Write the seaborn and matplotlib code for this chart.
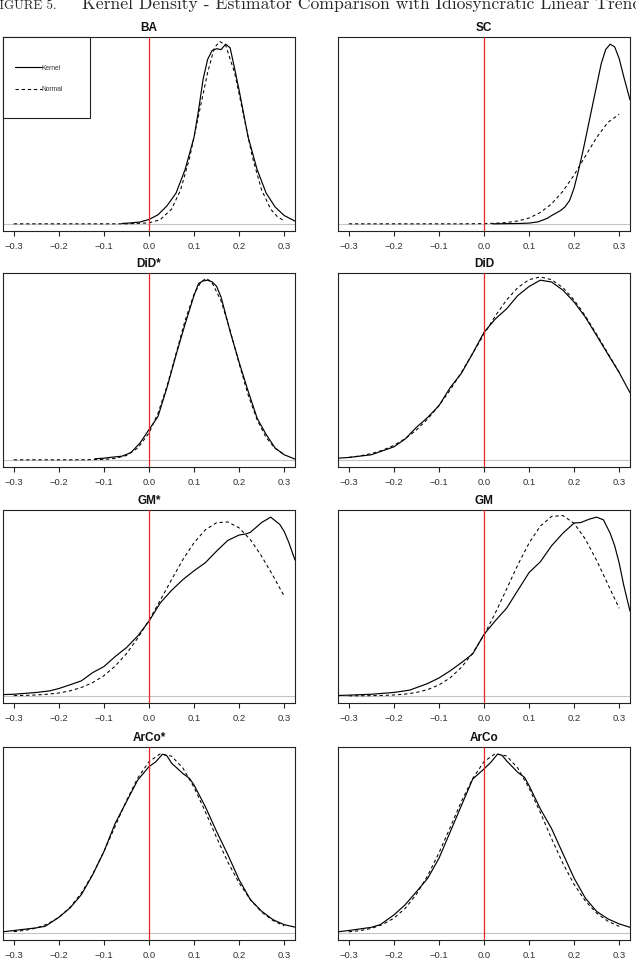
import matplotlib
matplotlib.use("Agg")
import matplotlib.pyplot as plt
import pandas as pd
import seaborn as sns
from matplotlib.patches import Rectangle
from matplotlib.lines import Line2D

# ---------------- data ----------------
PANELS = ["BA", "SC", "DiD*", "DiD", "GM*", "GM", "ArCo*", "ArCo"]
XTICKS = [-0.3, -0.2, -0.1, 0.0, 0.1, 0.2, 0.3]
XTICK_LABELS = ["\u22120.3", "\u22120.2", "\u22120.1", "0.0", "0.1", "0.2", "0.3"]
LEGEND_LABELS = ["Kernel", "Normal"]

GRID = [-0.3, -0.275, -0.25, -0.225, -0.2, -0.175, -0.15, -0.125, -0.1, -0.075,
        -0.05, -0.025, 0.0, 0.025, 0.05, 0.075, 0.1, 0.125, 0.15, 0.175,
        0.2, 0.225, 0.25, 0.275, 0.3]

# BA
BA_KX = [-0.06, -0.04, -0.02, 0.0, 0.02, 0.04, 0.06, 0.08, 0.1, 0.11, 0.12, 0.13, 0.14,
         0.15, 0.16, 0.17, 0.18, 0.19, 0.2, 0.21, 0.22, 0.24, 0.26, 0.28, 0.3, 0.324]
BA_KY = [0.002, 0.005, 0.01, 0.024, 0.05, 0.10, 0.17, 0.30, 0.48, 0.63, 0.80, 0.91, 0.96,
         0.97, 0.965, 0.995, 0.975, 0.86, 0.74, 0.61, 0.48, 0.30, 0.17, 0.093, 0.046, 0.015]
BA_NX = [-0.3, -0.2, -0.1, -0.05, 0.0, 0.025, 0.05, 0.07, 0.09, 0.11, 0.13, 0.145, 0.157,
         0.17, 0.19, 0.21, 0.23, 0.25, 0.27, 0.285, 0.3]
BA_NY = [0.0, 0.0, 0.0, 0.0001, 0.005, 0.023, 0.081, 0.187, 0.364, 0.600, 0.837, 0.975, 1.01,
         0.99, 0.837, 0.600, 0.364, 0.187, 0.081, 0.039, 0.017]

# SC
SC_KX = [0.02, 0.05, 0.08, 0.1, 0.12, 0.14, 0.15, 0.16, 0.17, 0.18, 0.19, 0.2, 0.21, 0.22,
         0.23, 0.24, 0.25, 0.26, 0.27, 0.28, 0.29, 0.3, 0.31, 0.324]
SC_KY = [0.0, 0.001, 0.002, 0.004, 0.011, 0.03, 0.046, 0.06, 0.074, 0.095, 0.13, 0.20, 0.30,
         0.41, 0.53, 0.65, 0.77, 0.89, 0.97, 1.0, 0.985, 0.92, 0.82, 0.69]
SC_NX = [-0.3, -0.2, -0.1, -0.05, 0.0, 0.025, 0.05, 0.075, 0.1, 0.125, 0.15, 0.175, 0.2,
         0.225, 0.25, 0.275, 0.3]
SC_NY = [0.0, 0.0, 0.0, 0.0, 0.001, 0.003, 0.007, 0.016, 0.032, 0.063, 0.111, 0.181, 0.272,
         0.377, 0.481, 0.565, 0.61]

# DiD*
DIDS_KX = [-0.12, -0.1, -0.08, -0.06, -0.04, -0.02, 0.0, 0.02, 0.04, 0.06, 0.08, 0.1, 0.11,
           0.12, 0.13, 0.14, 0.15, 0.16, 0.18, 0.2, 0.22, 0.24, 0.26, 0.28, 0.3, 0.324]
DIDS_KY = [0.006, 0.009, 0.015, 0.02, 0.04, 0.093, 0.167, 0.24, 0.40, 0.58, 0.75, 0.91, 0.976,
           0.99, 0.994, 0.985, 0.96, 0.90, 0.71, 0.54, 0.38, 0.23, 0.14, 0.065, 0.028, 0.004]
DIDS_NX = [-0.3, -0.2, -0.15, -0.1, -0.075, -0.05, -0.025, 0.0, 0.02, 0.04, 0.06, 0.08, 0.1,
           0.115, 0.127, 0.14, 0.16, 0.18, 0.2, 0.22, 0.24, 0.26, 0.28, 0.3]
DIDS_NY = [0.0, 0.0, 0.0001, 0.002, 0.008, 0.024, 0.065, 0.148, 0.258, 0.408, 0.588, 0.770,
           0.917, 0.983, 1.005, 0.98, 0.879, 0.717, 0.532, 0.359, 0.221, 0.123, 0.063, 0.029]

# DiD
DID_KX = [-0.324, -0.3, -0.25, -0.2, -0.175, -0.15, -0.125, -0.1, -0.075, -0.05, -0.025,
          0.0, 0.025, 0.05, 0.075, 0.1, 0.125, 0.15, 0.175, 0.2, 0.225, 0.25, 0.275, 0.3, 0.324]
DID_KY = [0.009, 0.013, 0.028, 0.072, 0.115, 0.18, 0.235, 0.30, 0.40, 0.48, 0.59, 0.706, 0.78,
          0.836, 0.91, 0.96, 0.995, 0.985, 0.94, 0.874, 0.79, 0.688, 0.585, 0.483, 0.372]
DID_NY = [0.0132, 0.0216, 0.0345, 0.053, 0.080, 0.117, 0.165, 0.226, 0.30, 0.387, 0.485, 0.590,
          0.695, 0.797, 0.885, 0.954, 0.998, 1.013, 0.998, 0.954, 0.885, 0.797, 0.695, 0.590,
          0.485]

# GM*
GMS_KX = [-0.324, -0.3, -0.25, -0.22, -0.2, -0.175, -0.15, -0.125, -0.1, -0.075, -0.05,
          -0.025, 0.0, 0.025, 0.05, 0.075, 0.1, 0.125, 0.15, 0.175, 0.2, 0.215, 0.225, 0.25,
          0.27, 0.29, 0.3, 0.31, 0.324]
GMS_KY = [0.007, 0.009, 0.019, 0.028, 0.041, 0.062, 0.084, 0.13, 0.164, 0.22, 0.27, 0.335,
          0.418, 0.52, 0.59, 0.65, 0.70, 0.745, 0.81, 0.87, 0.90, 0.906, 0.915, 0.97, 1.0, 0.96,
          0.92, 0.86, 0.76]
GMS_NY = [0.0013, 0.0026, 0.005, 0.0092, 0.016, 0.028, 0.047, 0.074, 0.113, 0.167, 0.236,
          0.323, 0.423, 0.535, 0.650, 0.762, 0.857, 0.929, 0.969, 0.973, 0.940, 0.874, 0.781,
          0.673, 0.558]

# GM
GM_KX = [-0.324, -0.3, -0.25, -0.2, -0.165, -0.15, -0.125, -0.1, -0.075, -0.05, -0.025, 0.0,
         0.025, 0.05, 0.075, 0.1, 0.125, 0.15, 0.175, 0.2, 0.215, 0.235, 0.25, 0.265, 0.28,
         0.29, 0.3, 0.31, 0.324]
GM_KY = [0.002, 0.004, 0.009, 0.019, 0.032, 0.046, 0.069, 0.10, 0.14, 0.186, 0.235, 0.344,
         0.42, 0.49, 0.59, 0.69, 0.75, 0.84, 0.91, 0.967, 0.97, 0.99, 1.0, 0.985, 0.91, 0.84,
         0.743, 0.62, 0.474]
GM_NY = [0.0002, 0.0004, 0.001, 0.0023, 0.0049, 0.0098, 0.019, 0.035, 0.061, 0.101, 0.160,
         0.240, 0.34, 0.463, 0.597, 0.733, 0.855, 0.95, 1.004, 1.009, 0.965, 0.877, 0.758,
         0.624, 0.49]

# ArCo*
ARCO_KX = [-0.324, -0.3, -0.25, -0.23, -0.2, -0.175, -0.15, -0.125, -0.1, -0.075, -0.05,
           -0.025, 0.0, 0.015, 0.03, 0.04, 0.05, 0.075, 0.09, 0.1, 0.125, 0.15, 0.175, 0.2,
           0.225, 0.25, 0.275, 0.3, 0.324]
ARCOS_KY = [0.006, 0.013, 0.028, 0.037, 0.087, 0.14, 0.214, 0.325, 0.455, 0.613, 0.734,
            0.855, 0.93, 0.957, 1.0, 0.99, 0.95, 0.892, 0.864, 0.827, 0.706, 0.567, 0.437,
            0.297, 0.186, 0.121, 0.074, 0.046, 0.032]
ARCOS_NY = [0.0067, 0.0139, 0.027, 0.050, 0.087, 0.143, 0.223, 0.328, 0.455, 0.597, 0.740,
            0.866, 0.958, 1.002, 0.989, 0.923, 0.814, 0.678, 0.533, 0.396, 0.279, 0.185,
            0.116, 0.069, 0.039]

# ArCo
ARCO_KY = [0.006, 0.013, 0.031, 0.046, 0.10, 0.157, 0.23, 0.305, 0.417, 0.565, 0.713,
           0.861, 0.917, 0.954, 1.0, 0.994, 0.963, 0.898, 0.87, 0.824, 0.694, 0.583, 0.444,
           0.306, 0.194, 0.12, 0.078, 0.05, 0.031]
ARCO_NY = [0.0059, 0.0126, 0.0248, 0.0467, 0.082, 0.137, 0.216, 0.320, 0.447, 0.590, 0.736,
           0.864, 0.958, 1.003, 0.990, 0.922, 0.810, 0.673, 0.527, 0.389, 0.271, 0.178,
           0.110, 0.065, 0.036]

CURVES = {
    "BA": (BA_KX, BA_KY, BA_NX, BA_NY),
    "SC": (SC_KX, SC_KY, SC_NX, SC_NY),
    "DiD*": (DIDS_KX, DIDS_KY, DIDS_NX, DIDS_NY),
    "DiD": (DID_KX, DID_KY, GRID, DID_NY),
    "GM*": (GMS_KX, GMS_KY, GRID, GMS_NY),
    "GM": (GM_KX, GM_KY, GRID, GM_NY),
    "ArCo*": (ARCO_KX, ARCOS_KY, GRID, ARCOS_NY),
    "ArCo": (ARCO_KX, ARCO_KY, GRID, ARCO_NY),
}

# ---------------- styling ----------------
sns.set_theme(style="white")
plt.rcParams["font.family"] = ["Liberation Sans", "DejaVu Sans"]
plt.rcParams["axes.edgecolor"] = "#222222"
plt.rcParams["axes.linewidth"] = 0.8

W, H = 636, 977
fig = plt.figure(figsize=(W / 100, H / 100), dpi=100)
fig.patch.set_facecolor("white")

COLS = [(3, 295), (338, 630)]
ROWS = [(37, 231), (273, 467), (510, 703), (747, 940)]
DASH = (0, (3.2, 2.7))

for i, name in enumerate(PANELS):
    x0, x1 = COLS[i % 2]
    y0, y1 = ROWS[i // 2]
    ax = fig.add_axes([x0 / W, 1 - y1 / H, (x1 - x0) / W, (y1 - y0) / H])
    kx, ky, nx, ny = CURVES[name]
    dk = pd.DataFrame({"x": kx, "density": ky})
    dn = pd.DataFrame({"x": nx, "density": ny})

    ax.axhline(0, color="#c4c4c4", lw=0.8, zorder=1)
    sns.lineplot(data=dk, x="x", y="density", ax=ax, color="black", lw=0.85,
                 sort=False, estimator=None, zorder=3)
    sns.lineplot(data=dn, x="x", y="density", ax=ax, color="black", lw=0.75,
                 sort=False, estimator=None, zorder=3)
    ax.lines[-1].set_linestyle(DASH)
    ax.axvline(0, color="#ec2424", lw=0.9, zorder=4)

    top = max(ky)
    ax.set_xlim(-0.324, 0.324)
    ax.set_ylim(-0.04 * top, 1.04 * top)
    ax.set_yticks([])
    ax.set_xticks(XTICKS)
    ax.set_xticklabels(XTICK_LABELS)
    ax.set_xlabel("")
    ax.set_ylabel("")
    ax.tick_params(axis="x", bottom=True, length=3.6, width=0.8, pad=4,
                   labelsize=6.8, colors="#222222", labelcolor="#333333")
    ax.set_title(name, fontweight="bold", fontsize=8.5, pad=4.5, color="#111111")
    for sp in ax.spines.values():
        sp.set_visible(True)
        sp.set_color("#222222")
        sp.set_linewidth(0.8)

    if name == "BA":
        ax.add_patch(Rectangle((0, 1 - 81 / 194), 87 / 292, 81 / 194, transform=ax.transAxes,
                               facecolor="white", edgecolor="#222222", lw=0.8, zorder=5,
                               clip_on=False))
        handles = [Line2D([], [], color="black", lw=0.85),
                   Line2D([], [], color="black", lw=0.75, linestyle=DASH)]
        leg = ax.legend(handles, LEGEND_LABELS, loc="upper left",
                        bbox_to_anchor=(12 / 292, 1 - 27.5 / 194), frameon=False,
                        fontsize=4.8, handlelength=4.0, handletextpad=0.05,
                        labelspacing=2.15, borderpad=0, borderaxespad=0)
        leg.set_zorder(6)
        for t in leg.get_texts():
            t.set_color("#333333")

# figure caption, clipped at the edges as in the reference
fig.text(82 / W, 1 - 9.3 / H,
         "Kernel Density - Estimator Comparison with Idiosyncratic Linear Trend",
         family="cmr10", fontsize=12.7, ha="left", va="baseline")
fig.text(57 / W, 1 - 9.3 / H, "FIGURE 5.", family="cmr10", fontsize=9.3,
         ha="right", va="baseline")

fig.savefig("out.png", dpi=100)
